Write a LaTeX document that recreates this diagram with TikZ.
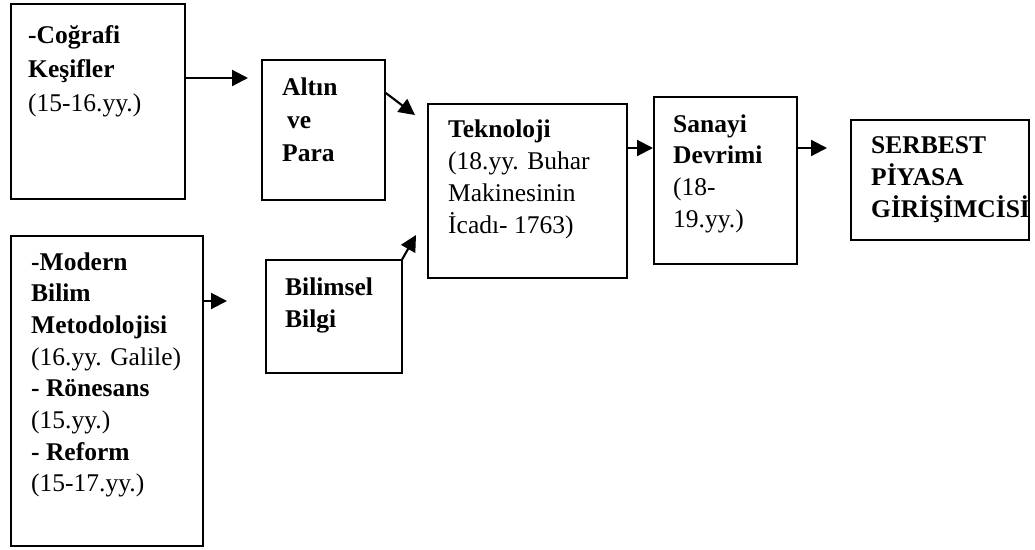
\documentclass[tikz,border=0pt]{standalone}
\usepackage{fontspec}
\setmainfont{Liberation Serif}
\usetikzlibrary{calc,arrows.meta}
% stacked left-aligned lines whose baseline is the first line's baseline
\newcommand{\boxlines}[2]{\vtop{\baselineskip=#1\lineskiplimit=-100pt\lineskip=0pt\halign{##\hfil\cr#2\crcr}}}
\begin{document}
\begin{tikzpicture}[x=1pt,y=-1pt,
  flowbox/.style={draw, line width=1.8pt, inner sep=0pt, anchor=north west},
  txt/.style={anchor=base west, inner sep=0pt, font=\fontsize{25.5}{32}\selectfont},
  arr/.style={-{Triangle[length=16pt,width=16pt]}, line width=2.1pt}]
\useasboundingbox (0,0) rectangle (1035,549);

% boxes
\node[flowbox, minimum width=174pt, minimum height=195pt] (geo) at (10,3) {};
\node[flowbox, minimum width=123pt, minimum height=140pt] (altin) at (261,59) {};
\node[flowbox, minimum width=199pt, minimum height=174pt] (tek) at (427,103) {};
\node[flowbox, minimum width=143pt, minimum height=167pt] (san) at (653,96) {};
\node[flowbox, minimum width=178pt, minimum height=120pt] (ser) at (850,119) {};
\node[flowbox, minimum width=192pt, minimum height=310pt] (mod) at (10,235) {};
\node[flowbox, minimum width=136pt, minimum height=113pt] (bil) at (265,259) {};

% texts
\node[txt] (geoT) at (28,43) {\boxlines{34pt}{\bfseries -Coğrafi\cr\bfseries Keşifler\cr (15-16.yy.)}};
\node[txt] (altinT) at (282,95) {\boxlines{33pt}{\bfseries Altın\cr\bfseries\hspace{5pt}ve\cr\bfseries Para}};
\node[txt] (tekT) at (448,137) {\boxlines{32pt}{\bfseries Teknoloji\cr (18.yy. Buhar\cr Makinesinin\cr İcadı- 1763)}};
\node[txt] (sanT) at (673,132) {\boxlines{31.7pt}{\bfseries Sanayi\cr\bfseries Devrimi\cr (18-\cr 19.yy.)}};
\node[txt] (serT) at (871,153) {\boxlines{32pt}{\bfseries SERBEST\cr\bfseries PİYASA\cr\bfseries GİRİŞİMCİSİ}};
\node[txt] (modT) at (31,270) {\boxlines{31.7pt}{\bfseries -Modern\cr\bfseries Bilim\cr\bfseries Metodolojisi\cr (16.yy. Galile)\cr\bfseries - Rönesans\cr (15.yy.)\cr\bfseries - Reform\cr (15-17.yy.)}};
\node[txt] (bilT) at (285,295) {\boxlines{32pt}{\bfseries Bilimsel\cr\bfseries Bilgi}};

% connectors
\draw[arr] ($(geo.north east)+(0,75)$) -- ($(altin.north west)+(-13,19)$);
\draw[arr] ($(altin.north east)+(0,34)$) -- ($(tek.north west)+(-12,12)$);
\draw[arr] ($(bil.north east)+(-1,1)$) -- ($(tek.north west)+(-11,132)$);
\draw[arr] ($(mod.north east)+(0,66)$) -- ($(bil.north west)+(-38,42)$);
\draw[arr] ($(tek.north east)+(0,45)$) -- ($(san.north west)+(0,52)$);
\draw[arr] ($(san.north east)+(0,52)$) -- ($(ser.north west)+(-23,29)$);
\end{tikzpicture}
\end{document}
